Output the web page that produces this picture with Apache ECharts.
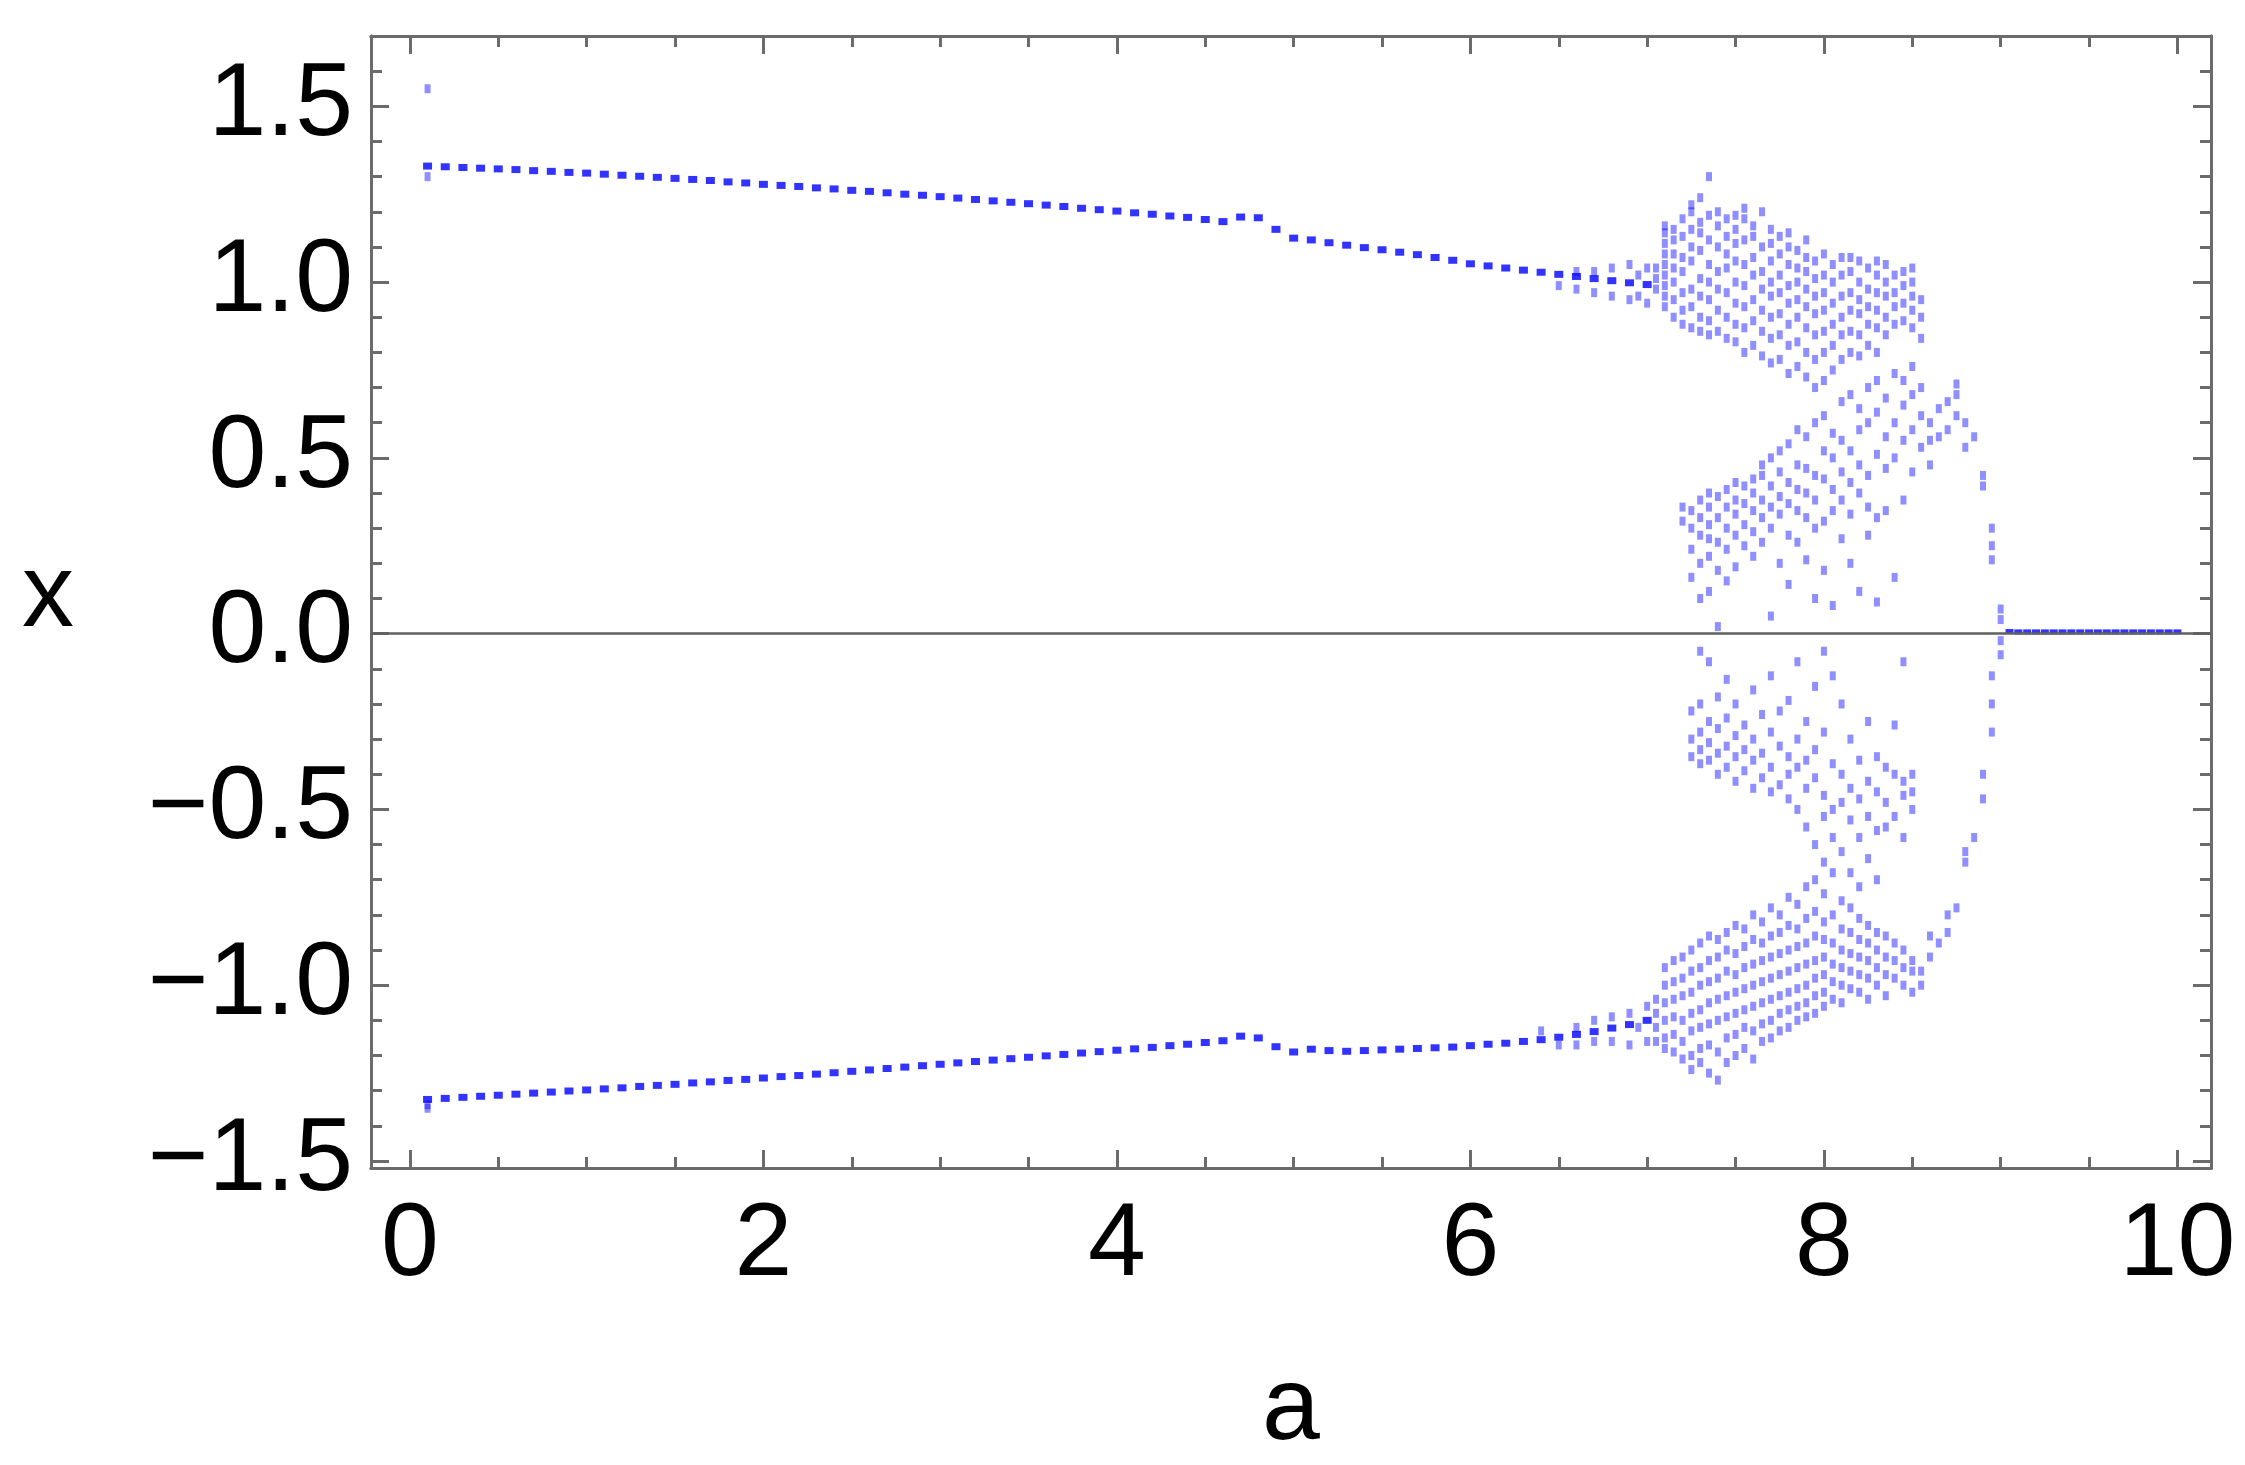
<!DOCTYPE html>
<html>
<head>
<meta charset="utf-8">
<script src="https://cdn.jsdelivr.net/npm/echarts@6/dist/echarts.min.js"></script>
<style>html,body{margin:0;padding:0;background:#fff}#c{width:2245px;height:1465px}</style>
</head>
<body>
<div id="c"></div>
<script>
// periodic branch, a = 0.1 .. 7.0 step 0.1
const branchA = [0.1,0.2,0.3,0.4,0.5,0.6,0.7,0.8,0.9,1.0,1.1,1.2,1.3,1.4,1.5,1.6,1.7,1.8,1.9,2.0,
  2.1,2.2,2.3,2.4,2.5,2.6,2.7,2.8,2.9,3.0,3.1,3.2,3.3,3.4,3.5,3.6,3.7,3.8,3.9,4.0,
  4.1,4.2,4.3,4.4,4.5,4.6,4.7,4.8,4.9,5.0,5.1,5.2,5.3,5.4,5.5,5.6,5.7,5.8,5.9,6.0,
  6.1,6.2,6.3,6.4,6.5,6.6,6.7,6.8,6.9,7.0];
const upperX = [1.330,1.328,1.326,1.324,1.322,1.320,1.317,1.315,1.312,1.310,1.307,1.304,1.301,1.298,1.295,1.292,1.289,1.285,1.282,1.278,
  1.275,1.272,1.268,1.265,1.261,1.258,1.254,1.250,1.247,1.243,1.239,1.235,1.231,1.227,1.223,1.219,1.215,1.210,1.206,1.202,
  1.197,1.193,1.188,1.184,1.178,1.172,1.185,1.183,1.150,1.125,1.120,1.112,1.105,1.098,1.092,1.085,1.078,1.070,1.062,1.052,
  1.046,1.040,1.034,1.028,1.022,1.016,1.010,1.004,0.998,0.993];
const lowerX = [-1.325,-1.322,-1.319,-1.316,-1.313,-1.310,-1.307,-1.304,-1.301,-1.298,-1.295,-1.292,-1.288,-1.285,-1.282,-1.278,-1.275,-1.271,-1.268,-1.264,
  -1.260,-1.257,-1.253,-1.249,-1.245,-1.241,-1.237,-1.233,-1.229,-1.225,-1.221,-1.217,-1.213,-1.209,-1.205,-1.201,-1.197,-1.193,-1.189,-1.185,
  -1.181,-1.177,-1.172,-1.168,-1.163,-1.158,-1.145,-1.150,-1.175,-1.190,-1.182,-1.186,-1.188,-1.186,-1.184,-1.182,-1.180,-1.178,-1.176,-1.172,
  -1.168,-1.165,-1.160,-1.155,-1.148,-1.140,-1.132,-1.122,-1.112,-1.100];
// extra points near the start and where the branch widens
const extraPts = [[0.1,1.30],[0.1,1.55],[0.1,-1.35],[0.1,-1.34],
  [6.5,0.99],[6.6,0.98],[6.6,1.03],[6.7,0.97],[6.7,1.03],[6.8,0.96],[6.8,1.04],[6.9,0.95],[6.9,1.05],[7.0,0.94],[7.0,1.04],[6.95,0.96],[6.95,1.02],
  [6.4,-1.13],[6.5,-1.17],[6.6,-1.12],[6.6,-1.17],[6.7,-1.10],[6.7,-1.16],[6.8,-1.09],[6.8,-1.16],[6.9,-1.08],[6.9,-1.17],[7.0,-1.06],[7.0,-1.16],[6.95,-1.12]];

// chaotic region, one column per a value
const chaosA = [7.05,7.10,7.15,7.20,7.25,7.30,7.35,7.40,7.45,7.50,7.55,7.60,7.65,7.70,7.75,7.80,7.85,7.90,7.95,8.00,
  8.05,8.10,8.15,8.20,8.25,8.30,8.35,8.40,8.45,8.50,8.55,8.60,8.65,8.70,8.75,8.80,8.85,8.90,8.95,9.00];
const chaosX = [
  [0.98,1.01,1.04,-1.04,-1.08,-1.12,-1.16],
  [0.93,0.96,0.99,1.02,1.05,1.08,1.11,1.14,1.16,-0.95,-1.00,-1.05,-1.10,-1.15,-1.18],
  [0.90,0.95,1.00,1.04,1.08,1.12,1.15,-0.93,-0.99,-1.04,-1.09,-1.14,-1.19],
  [0.88,0.92,0.97,1.03,1.07,1.13,1.18,0.32,0.36,-0.92,-0.98,-1.03,-1.10,-1.16,-1.21],
  [0.87,0.93,0.98,1.06,1.10,1.15,1.20,1.22,0.16,0.24,0.30,0.35,-0.22,-0.30,-0.35,-0.90,-0.96,-1.02,-1.08,-1.13,-1.20,-1.24],
  [0.86,0.90,0.96,1.01,1.09,1.14,1.17,1.24,0.10,0.20,0.28,0.33,0.38,-0.05,-0.20,-0.28,-0.33,-0.37,-0.88,-0.95,-1.00,-1.07,-1.12,-1.18,-1.22],
  [0.85,0.89,0.95,1.00,1.05,1.12,1.19,1.30,0.12,0.22,0.27,0.31,0.36,0.40,-0.08,-0.25,-0.31,-0.36,-0.86,-0.93,-0.99,-1.05,-1.11,-1.17,-1.25],
  [0.86,0.92,0.98,1.03,1.10,1.16,1.20,0.02,0.18,0.26,0.33,0.39,-0.18,-0.27,-0.34,-0.40,-0.87,-0.92,-0.98,-1.04,-1.10,-1.19,-1.27],
  [0.84,0.90,0.97,1.04,1.08,1.13,1.18,0.15,0.24,0.30,0.36,0.41,-0.13,-0.24,-0.32,-0.38,-0.85,-0.90,-0.96,-1.03,-1.09,-1.15,-1.22],
  [0.83,0.88,0.94,1.00,1.06,1.11,1.15,1.19,0.19,0.28,0.34,0.38,0.43,-0.20,-0.29,-0.35,-0.42,-0.83,-0.91,-0.97,-1.02,-1.08,-1.14,-1.20],
  [0.80,0.87,0.93,0.99,1.05,1.12,1.18,1.21,0.25,0.31,0.37,0.42,-0.26,-0.33,-0.39,-0.84,-0.89,-0.95,-1.01,-1.07,-1.12,-1.18],
  [0.82,0.89,0.95,1.02,1.07,1.13,1.16,0.22,0.29,0.35,0.40,0.44,-0.16,-0.30,-0.36,-0.44,-0.80,-0.87,-0.94,-1.00,-1.06,-1.13,-1.21],
  [0.79,0.86,0.92,0.98,1.03,1.10,1.20,0.26,0.33,0.38,0.45,0.48,-0.23,-0.34,-0.41,-0.82,-0.88,-0.93,-0.99,-1.05,-1.11,-1.16],
  [0.77,0.84,0.90,0.96,1.00,1.06,1.11,1.15,0.05,0.30,0.36,0.42,0.50,-0.12,-0.28,-0.38,-0.45,-0.78,-0.86,-0.92,-0.98,-1.04,-1.10,-1.15],
  [0.78,0.85,0.91,0.97,1.02,1.08,1.13,0.20,0.34,0.39,0.46,0.52,-0.22,-0.32,-0.43,-0.80,-0.85,-0.91,-0.97,-1.03,-1.08,-1.13],
  [0.74,0.82,0.88,0.94,0.99,1.05,1.10,1.14,0.14,0.28,0.37,0.43,0.54,-0.19,-0.35,-0.40,-0.47,-0.75,-0.83,-0.90,-0.96,-1.02,-1.07,-1.12],
  [0.76,0.83,0.90,0.95,1.00,1.04,1.09,0.26,0.35,0.41,0.48,0.58,-0.08,-0.30,-0.38,-0.50,-0.77,-0.84,-0.89,-0.95,-1.01,-1.06,-1.10],
  [0.73,0.80,0.87,0.93,0.98,1.03,1.07,1.12,0.21,0.33,0.40,0.47,0.56,-0.25,-0.36,-0.44,-0.55,-0.72,-0.81,-0.88,-0.94,-1.00,-1.05,-1.09],
  [0.70,0.78,0.85,0.91,0.96,1.01,1.06,0.10,0.30,0.38,0.45,0.60,-0.15,-0.33,-0.41,-0.60,-0.70,-0.79,-0.86,-0.93,-0.98,-1.03,-1.08],
  [0.72,0.80,0.86,0.92,0.97,1.02,1.08,0.18,0.32,0.44,0.52,0.62,-0.05,-0.28,-0.46,-0.52,-0.65,-0.74,-0.82,-0.87,-0.92,-0.97,-1.02,-1.06],
  [0.75,0.82,0.88,0.94,1.00,1.05,0.08,0.35,0.41,0.50,0.57,-0.12,-0.37,-0.50,-0.58,-0.68,-0.80,-0.88,-0.94,-0.99,-1.04],
  [0.78,0.85,0.90,0.96,1.02,1.07,0.27,0.38,0.46,0.55,0.66,-0.20,-0.40,-0.48,-0.62,-0.76,-0.84,-0.90,-0.95,-1.00,-1.05],
  [0.80,0.86,0.92,0.97,1.03,1.07,0.20,0.34,0.43,0.52,0.68,-0.30,-0.44,-0.53,-0.68,-0.78,-0.85,-0.91,-0.96,-1.01],
  [0.79,0.85,0.91,0.95,1.00,1.06,0.12,0.40,0.48,0.58,0.64,-0.36,-0.47,-0.58,-0.72,-0.81,-0.87,-0.92,-0.97,-1.02],
  [0.82,0.88,0.93,0.98,1.04,0.28,0.36,0.45,0.60,0.70,-0.25,-0.42,-0.52,-0.64,-0.83,-0.88,-0.93,-0.98,-1.04],
  [0.80,0.87,0.92,0.97,1.02,1.06,0.09,0.33,0.51,0.63,0.72,-0.35,-0.45,-0.56,-0.70,-0.85,-0.90,-0.95,-1.00],
  [0.85,0.90,0.96,1.00,1.05,0.35,0.47,0.56,0.67,-0.38,-0.48,-0.55,-0.86,-0.92,-0.97,-1.03],
  [0.88,0.93,0.97,1.02,0.16,0.50,0.60,0.74,-0.26,-0.40,-0.52,-0.88,-0.93,-0.98],
  [0.89,0.94,0.99,1.03,0.38,0.55,0.65,0.72,-0.08,-0.42,-0.46,-0.58,-0.90,-0.95,-1.00],
  [0.87,0.92,0.96,1.00,1.04,0.46,0.58,0.68,0.76,-0.40,-0.45,-0.50,-0.93,-0.96,-1.02],
  [0.84,0.90,0.95,0.53,0.62,0.70,-0.96,-1.00],
  [0.48,0.55,0.60,-0.92,-0.86],
  [0.56,0.64,-0.88],
  [0.58,0.66,-0.85,-0.80],
  [0.62,0.68,0.71,-0.78],
  [0.53,0.60,-0.65,-0.62],
  [0.56,-0.58],
  [0.42,0.45,-0.47,-0.40],
  [0.21,0.25,0.30,-0.28,-0.20,-0.12],
  [0.07,0.04,-0.02,-0.06]
];
// fixed point after the collapse
const tailA = [9.05,9.10,9.15,9.20,9.25,9.30,9.35,9.40,9.45,9.50,9.55,9.60,9.65,9.70,9.75,9.80,9.85,9.90,9.95,10.0];
const tailX = [0.006,0.005,0.005,0.005,0.005,0.005,0.005,0.005,0.005,0.005,0.005,0.005,0.005,0.005,0.005,0.005,0.005,0.005,0.005,0.005];

const xMajor = [0, 2, 4, 6, 8, 10];
const xMinor = [0.5,1,1.5,2.5,3,3.5,4.5,5,5.5,6.5,7,7.5,8.5,9,9.5];
const yMajor = [-1.5, -1.0, -0.5, 0, 0.5, 1.0, 1.5];
const yMinor = [-1.4,-1.3,-1.2,-1.1,-0.9,-0.8,-0.7,-0.6,-0.4,-0.3,-0.2,-0.1,0.1,0.2,0.3,0.4,0.6,0.7,0.8,0.9,1.1,1.2,1.3,1.4,1.6];

const branchPts = branchA.map((a, i) => [a, upperX[i]]).concat(branchA.map((a, i) => [a, lowerX[i]]));
const chaosPts = [];
chaosA.forEach((a, i) => chaosX[i].forEach(x => chaosPts.push([a, x])));
const tailPts = tailA.map((a, i) => [a, tailX[i]]);

const AX = '#6b6b6b';
const FONT = 'Liberation Sans, Arial, sans-serif';
const fmtY = v => (v < 0 ? '\u2212' : '') + Math.abs(v).toFixed(1);

function xAxis(pos, ticks, len, show) {
  return {
    type: 'value', position: pos, min: -0.22, max: 10.19,
    axisLine: { show: true, onZero: false, lineStyle: { color: AX, width: 3 } },
    axisTick: { show: true, inside: true, length: len, customValues: ticks, lineStyle: { color: AX, width: 3 } },
    axisLabel: { show: show, customValues: ticks, margin: 26, color: '#000', fontFamily: FONT, fontSize: 104 },
    splitLine: { show: false }
  };
}
function yAxis(pos, ticks, len, show) {
  return {
    type: 'value', position: pos, min: -1.52, max: 1.70,
    axisLine: { show: true, onZero: false, lineStyle: { color: AX, width: 3 } },
    axisTick: { show: true, inside: true, length: len, customValues: ticks, lineStyle: { color: AX, width: 3 } },
    axisLabel: { show: show, customValues: ticks, margin: 18, formatter: fmtY, color: '#000', fontFamily: FONT, fontSize: 104 },
    splitLine: { show: false }
  };
}

const chart = echarts.init(document.getElementById('c'));
chart.setOption({
  animation: false,
  backgroundColor: '#fff',
  grid: { left: 371, right: 34, top: 36, bottom: 297, containLabel: false },
  xAxis: [xAxis('bottom', xMajor, 18, true), xAxis('bottom', xMinor, 11, false),
          xAxis('top', xMajor, 18, false), xAxis('top', xMinor, 11, false)],
  yAxis: [yAxis('left', yMajor, 18, true), yAxis('left', yMinor, 11, false),
          yAxis('right', yMajor, 18, false), yAxis('right', yMinor, 11, false)],
  graphic: [
    { type: 'text', left: 22, top: 545, style: { text: 'x', font: '104px ' + FONT, fill: '#000' } },
    { type: 'text', left: 1262, top: 1358, style: { text: 'a', font: '104px ' + FONT, fill: '#000' } }
  ],
  series: [
    {
      type: 'scatter', data: branchPts, symbol: 'rect', symbolSize: [9, 7],
      itemStyle: { color: '#0000ff' },
      markLine: { symbol: 'none', silent: true, label: { show: false },
        lineStyle: { color: '#606060', width: 2.5, type: 'solid' }, data: [{ yAxis: 0 }] }
    },
    { type: 'scatter', data: extraPts, symbol: 'rect', symbolSize: [6, 9], itemStyle: { color: 'rgba(0,0,255,0.55)' } },
    { type: 'scatter', data: chaosPts, symbol: 'rect', symbolSize: [6, 9], itemStyle: { color: 'rgba(0,0,255,0.55)' } },
    { type: 'scatter', data: tailPts, symbol: 'rect', symbolSize: [8, 5], itemStyle: { color: '#0000ff' } }
  ]
});
</script>
</body>
</html>
